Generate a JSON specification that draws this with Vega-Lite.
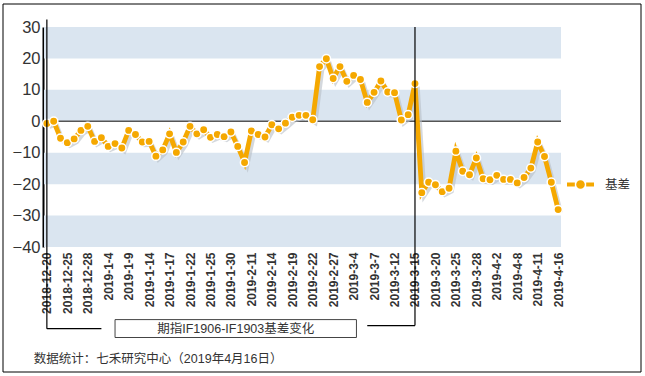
{
  "$schema": "https://vega.github.io/schema/vega-lite/v6.json",
  "width": 517,
  "height": 220,
  "autosize": {"type": "none"},
  "padding": {"left": 44, "top": 27, "right": 84, "bottom": 129},
  "background": "white",
  "config": {
    "view": {"stroke": null},
    "font": "Liberation Sans, Noto Sans CJK SC",
    "axis": {"grid": false},
    "axisY": {
      "labelFontSize": 16.5, "labelColor": "#333333", "labelFont": "Liberation Sans",
      "domainColor": "#000000", "domainWidth": 2, "ticks": false,
      "offset": 1, "labelPadding": 3, "labelOverlap": false, "labelFlush": false,
      "tickCount": 8
    }
  },
  "datasets": {
    "basis": [
      {"d": "2018-12-20", "v": -0.7}, {"d": "2018-12-21", "v": 0.0}, {"d": "2018-12-24", "v": -5.4},
      {"d": "2018-12-25", "v": -6.8}, {"d": "2018-12-26", "v": -5.6}, {"d": "2018-12-27", "v": -2.9},
      {"d": "2018-12-28", "v": -1.6}, {"d": "2019-1-2", "v": -6.4}, {"d": "2019-1-3", "v": -5.2},
      {"d": "2019-1-4", "v": -8.0}, {"d": "2019-1-7", "v": -7.1}, {"d": "2019-1-8", "v": -8.5},
      {"d": "2019-1-9", "v": -2.9}, {"d": "2019-1-10", "v": -4.2}, {"d": "2019-1-11", "v": -6.6},
      {"d": "2019-1-14", "v": -6.4}, {"d": "2019-1-15", "v": -11.1}, {"d": "2019-1-16", "v": -9.1},
      {"d": "2019-1-17", "v": -4.0}, {"d": "2019-1-18", "v": -9.9}, {"d": "2019-1-21", "v": -6.6},
      {"d": "2019-1-22", "v": -1.6}, {"d": "2019-1-23", "v": -4.0}, {"d": "2019-1-24", "v": -2.7},
      {"d": "2019-1-25", "v": -5.1}, {"d": "2019-1-28", "v": -4.2}, {"d": "2019-1-29", "v": -4.9},
      {"d": "2019-1-30", "v": -3.4}, {"d": "2019-1-31", "v": -8.0}, {"d": "2019-2-1", "v": -13.1},
      {"d": "2019-2-11", "v": -3.1}, {"d": "2019-2-12", "v": -4.2}, {"d": "2019-2-13", "v": -5.0},
      {"d": "2019-2-14", "v": -1.1}, {"d": "2019-2-15", "v": -2.4}, {"d": "2019-2-18", "v": -0.6},
      {"d": "2019-2-19", "v": 1.3}, {"d": "2019-2-20", "v": 1.9}, {"d": "2019-2-21", "v": 1.9},
      {"d": "2019-2-22", "v": 0.5}, {"d": "2019-2-25", "v": 17.4}, {"d": "2019-2-26", "v": 19.9},
      {"d": "2019-2-27", "v": 13.6}, {"d": "2019-2-28", "v": 17.4}, {"d": "2019-3-1", "v": 12.7},
      {"d": "2019-3-4", "v": 14.6}, {"d": "2019-3-5", "v": 13.3}, {"d": "2019-3-6", "v": 6.0},
      {"d": "2019-3-7", "v": 9.2}, {"d": "2019-3-8", "v": 12.8}, {"d": "2019-3-11", "v": 9.3},
      {"d": "2019-3-12", "v": 9.1}, {"d": "2019-3-13", "v": 0.4}, {"d": "2019-3-14", "v": 2.1},
      {"d": "2019-3-15", "v": 12.0}, {"d": "2019-3-18", "v": -22.7}, {"d": "2019-3-19", "v": -19.4},
      {"d": "2019-3-20", "v": -20.2}, {"d": "2019-3-21", "v": -22.4}, {"d": "2019-3-22", "v": -21.3},
      {"d": "2019-3-25", "v": -9.5}, {"d": "2019-3-26", "v": -15.9}, {"d": "2019-3-27", "v": -17.0},
      {"d": "2019-3-28", "v": -11.7}, {"d": "2019-3-29", "v": -18.3}, {"d": "2019-4-1", "v": -18.6},
      {"d": "2019-4-2", "v": -17.2}, {"d": "2019-4-3", "v": -18.5}, {"d": "2019-4-4", "v": -18.5},
      {"d": "2019-4-8", "v": -19.6}, {"d": "2019-4-9", "v": -17.9}, {"d": "2019-4-10", "v": -14.9},
      {"d": "2019-4-11", "v": -6.6}, {"d": "2019-4-12", "v": -11.2}, {"d": "2019-4-15", "v": -19.4},
      {"d": "2019-4-16", "v": -28.1}
    ],
    "bands": [
      {"lo": 20, "hi": 30}, {"lo": 0, "hi": 10}, {"lo": -20, "hi": -10}, {"lo": -40, "hi": -30}
    ],
    "one": [{"k": 1}]
  },
  "layer": [
    {
      "data": {"name": "one"},
      "mark": {"type": "rect", "fill": "transparent", "stroke": "#000000", "strokeWidth": 1},
      "encoding": {
        "x": {"value": -41}, "x2": {"value": 597},
        "y": {"value": -23}, "y2": {"value": 345}
      }
    },
    {
      "data": {"name": "bands"},
      "mark": {"type": "rect", "fill": "#dae5f0"},
      "encoding": {
        "y": {
          "field": "hi", "type": "quantitative",
          "scale": {"domain": [-40, 30], "nice": false, "zero": false},
          "axis": {"title": null, "values": [-40, -30, -20, -10, 0, 10, 20, 30]}
        },
        "y2": {"field": "lo"}
      }
    },
    {
      "data": {"name": "one"},
      "mark": {"type": "rule", "color": "#555555", "strokeWidth": 1.5},
      "encoding": {"y": {"datum": 0, "type": "quantitative", "axis": {"title": null, "values": [-40, -30, -20, -10, 0, 10, 20, 30]}}}
    },
    {
      "data": {"name": "basis"},
      "mark": {"type": "line", "color": "#b8bec6", "opacity": 0.6, "strokeWidth": 4.5, "xOffset": 2.5, "yOffset": 3},
      "encoding": {
        "x": {
          "field": "d", "type": "ordinal", "sort": null,
          "scale": {"type": "point", "padding": 0.42},
          "axis": {
            "title": null,
            "values": ["2018-12-20", "2018-12-25", "2018-12-28", "2019-1-4", "2019-1-9", "2019-1-14", "2019-1-17", "2019-1-22", "2019-1-25", "2019-1-30", "2019-2-11", "2019-2-14", "2019-2-19", "2019-2-22", "2019-2-27", "2019-3-4", "2019-3-7", "2019-3-12", "2019-3-15", "2019-3-20", "2019-3-25", "2019-3-28", "2019-4-2", "2019-4-8", "2019-4-11", "2019-4-16"],
            "labelAngle": -90, "labelAlign": "right", "labelBaseline": "middle",
            "labelFontSize": 12, "labelFontWeight": "bold", "labelColor": "#333333",
            "labelFont": "Liberation Sans",
            "domain": false, "ticks": false, "labelPadding": 5, "labelOverlap": false
          }
        },
        "y": {"field": "v", "type": "quantitative", "axis": {"title": null, "values": [-40, -30, -20, -10, 0, 10, 20, 30]}}
      }
    },
    {
      "data": {"name": "basis"},
      "mark": {"type": "line", "color": "#f5a800", "strokeWidth": 4.8},
      "encoding": {
        "x": {"field": "d", "type": "ordinal", "sort": null, "axis": {"title": null}},
        "y": {"field": "v", "type": "quantitative", "axis": {"title": null, "values": [-40, -30, -20, -10, 0, 10, 20, 30]}}
      }
    },
    {
      "data": {"name": "basis"},
      "mark": {"type": "point", "shape": "circle", "filled": true, "size": 70, "stroke": "#ffffff", "strokeWidth": 1.5, "opacity": 1},
      "encoding": {
        "x": {"field": "d", "type": "ordinal", "sort": null, "axis": {"title": null}},
        "y": {"field": "v", "type": "quantitative", "axis": {"title": null, "values": [-40, -30, -20, -10, 0, 10, 20, 30]}},
        "color": {
          "datum": "基差",
          "scale": {"range": ["#f5a800"]},
          "legend": {
            "title": null, "orient": "none", "legendX": 523, "legendY": 144, "padding": 0,
            "symbolType": "M-1,-0.15H-0.42V0.15H-1Z M0.42,-0.15H1V0.15H0.42Z M-0.32,0A0.32,0.32 0 1,0 0.32,0A0.32,0.32 0 1,0 -0.32,0Z",
            "symbolSize": 729, "symbolStrokeWidth": 0, "symbolOpacity": 1,
            "labelFontSize": 12.5, "labelColor": "#333333", "labelOffset": 11,
            "labelFont": "Noto Sans CJK SC"
          }
        }
      }
    },
    {
      "data": {"name": "one"},
      "mark": {"type": "rule", "color": "#000000", "strokeWidth": 1.2},
      "encoding": {
        "x": {"datum": "2018-12-20", "type": "ordinal", "axis": {"title": null}},
        "y": {"datum": 32.4, "type": "quantitative", "axis": {"title": null, "values": [-40, -30, -20, -10, 0, 10, 20, 30]}}, "y2": {"datum": -66}
      }
    },
    {
      "data": {"name": "one"},
      "mark": {"type": "rule", "color": "#000000", "strokeWidth": 1.2},
      "encoding": {
        "x": {"datum": "2018-12-20", "type": "ordinal", "axis": {"title": null}}, "x2": {"datum": "2019-1-3"},
        "y": {"datum": -66, "type": "quantitative", "axis": {"title": null, "values": [-40, -30, -20, -10, 0, 10, 20, 30]}}
      }
    },
    {
      "data": {"name": "one"},
      "mark": {"type": "rule", "color": "#000000", "strokeWidth": 1.2},
      "encoding": {
        "x": {"datum": "2019-3-15", "type": "ordinal", "axis": {"title": null}},
        "y": {"datum": 30, "type": "quantitative", "axis": {"title": null, "values": [-40, -30, -20, -10, 0, 10, 20, 30]}}, "y2": {"datum": -65}
      }
    },
    {
      "data": {"name": "one"},
      "mark": {"type": "rule", "color": "#000000", "strokeWidth": 1.2},
      "encoding": {
        "x": {"datum": "2019-3-6", "type": "ordinal", "axis": {"title": null}}, "x2": {"datum": "2019-3-15"},
        "y": {"datum": -65, "type": "quantitative", "axis": {"title": null, "values": [-40, -30, -20, -10, 0, 10, 20, 30]}}
      }
    },
    {
      "data": {"name": "one"},
      "mark": {"type": "rect", "fill": "#ffffff", "stroke": "#444444", "strokeWidth": 1, "x2Offset": -4},
      "encoding": {
        "x": {"datum": "2019-1-7", "type": "ordinal", "axis": {"title": null}}, "x2": {"datum": "2019-3-5"},
        "y": {"datum": -63.1, "type": "quantitative", "axis": {"title": null, "values": [-40, -30, -20, -10, 0, 10, 20, 30]}}, "y2": {"datum": -68.8}
      }
    },
    {
      "data": {"name": "one"},
      "mark": {"type": "text", "text": "期指IF1906-IF1903基差变化", "fontSize": 12.5, "color": "#333333", "align": "center", "baseline": "middle", "dx": -2, "font": "Liberation Sans, Noto Sans CJK SC"},
      "encoding": {
        "x": {"datum": "2019-1-31", "type": "ordinal", "axis": {"title": null}},
        "y": {"datum": -66, "type": "quantitative", "axis": {"title": null, "values": [-40, -30, -20, -10, 0, 10, 20, 30]}}
      }
    },
    {
      "data": {"name": "one"},
      "mark": {"type": "text", "text": "数据统计：七禾研究中心（2019年4月16日）", "fontSize": 12.5, "color": "#333333", "align": "left", "baseline": "middle", "dx": -13, "font": "Liberation Sans, Noto Sans CJK SC"},
      "encoding": {
        "x": {"datum": "2018-12-20", "type": "ordinal", "axis": {"title": null}},
        "y": {"datum": -75.5, "type": "quantitative", "axis": {"title": null, "values": [-40, -30, -20, -10, 0, 10, 20, 30]}}
      }
    }
  ]
}
